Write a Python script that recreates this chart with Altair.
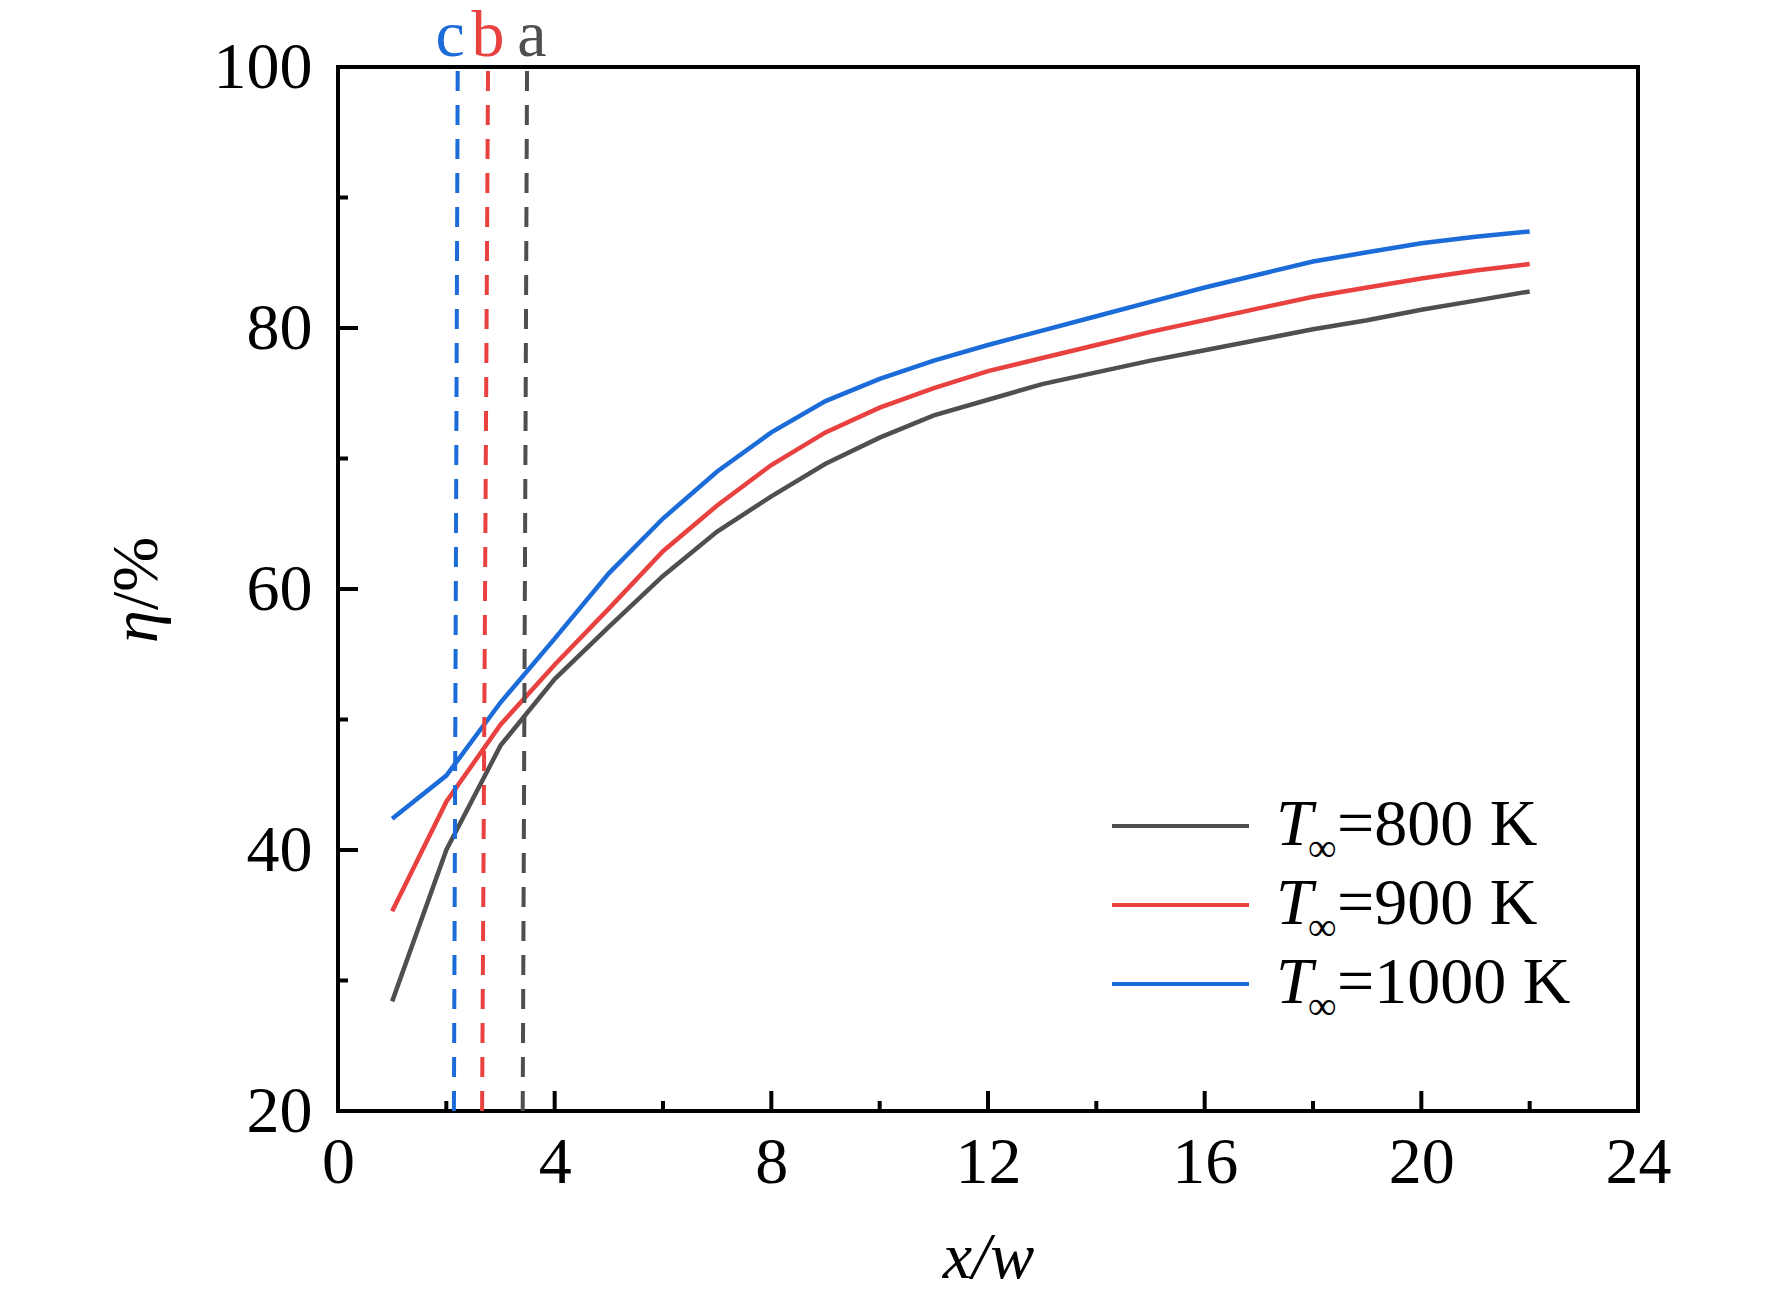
import altair as alt
import pandas as pd

# ---------------- data ----------------
x_w = list(range(1, 23))
eta_800 = [28.4, 40.0, 48.0, 53.1, 57.1, 61.0, 64.4, 67.1, 69.6, 71.6, 73.3,
           74.5, 75.7, 76.6, 77.5, 78.3, 79.1, 79.9, 80.6, 81.4, 82.1, 82.8]
eta_900 = [35.3, 43.7, 49.6, 54.2, 58.5, 62.9, 66.4, 69.5, 72.0, 73.9, 75.4,
           76.7, 77.7, 78.7, 79.7, 80.6, 81.5, 82.4, 83.1, 83.8, 84.4, 84.9]
eta_1000 = [42.4, 45.7, 51.3, 56.2, 61.2, 65.4, 69.0, 72.0, 74.4, 76.1, 77.5,
            78.7, 79.8, 80.9, 82.0, 83.1, 84.1, 85.1, 85.8, 86.5, 87.0, 87.4]

series_keys = ["800", "900", "1000"]
series_colors = ["#4f4f4f", "#e8413f", "#1b6bd8"]
legend_suffix = ["=800 K", "=900 K", "=1000 K"]

marker_labels = ["c", "b", "a"]
marker_series = ["1000", "900", "800"]
marker_x_bottom = [2.14, 2.66, 3.41]
marker_x_top = [2.21, 2.77, 3.49]
marker_label_x = [2.07, 2.77, 3.58]

x_major = [0, 4, 8, 12, 16, 20, 24]
x_minor = [2, 6, 10, 14, 18, 22]
y_major = [20, 40, 60, 80, 100]
y_minor = [30, 50, 70, 90]

X_TITLE = "x/w"

# ---------------- tables ----------------
lines_df = pd.DataFrame({
    "x": x_w * 3,
    "eta": eta_800 + eta_900 + eta_1000,
    "series": [series_keys[0]] * len(x_w) + [series_keys[1]] * len(x_w) + [series_keys[2]] * len(x_w),
})
markers_df = pd.DataFrame({
    "label": marker_labels,
    "series": marker_series,
    "xb": marker_x_bottom,
    "xt": marker_x_top,
    "xl": marker_label_x,
    "y0": [20] * 3,
    "y1": [100] * 3,
})

FONT = "Liberation Serif"
FS = 66
W, H = 1300, 1044

xscale = alt.Scale(domain=[0, 24], nice=False, zero=False)
yscale = alt.Scale(domain=[20, 100], nice=False, zero=False)
cscale = alt.Scale(domain=series_keys, range=series_colors)

x_axis = alt.Axis(values=x_major, ticks=False, tickSize=0, domain=False, grid=False,
                  labelFont=FONT, labelFontSize=FS, labelColor="black", labelPadding=19,
                  labelFlush=False, labelOverlap=False,
                  title=X_TITLE, titleFont=FONT, titleFontSize=FS, titleFontStyle="italic",
                  titleFontWeight="normal", titleColor="black", titleY=166,
                  titleBaseline="alphabetic")
y_axis = alt.Axis(values=y_major, ticks=False, tickSize=0, domain=False, grid=False,
                  labelFont=FONT, labelFontSize=FS, labelColor="black", labelPadding=26,
                  labelFlush=False, labelOverlap=False, title=None)

curves = alt.Chart(lines_df).mark_line(strokeWidth=4.5, clip=False).encode(
    x=alt.X("x:Q", scale=xscale, axis=x_axis),
    y=alt.Y("eta:Q", scale=yscale, axis=y_axis),
    color=alt.Color("series:N", scale=cscale, legend=None),
    order="x:Q",
)

dashes = alt.Chart(markers_df).mark_rule(strokeWidth=4, strokeDash=[20, 14]).encode(
    x=alt.X("xb:Q", scale=xscale, title=X_TITLE),
    x2="xt:Q",
    y=alt.Y("y0:Q", scale=yscale, title=None),
    y2="y1:Q",
    color=alt.Color("series:N", scale=cscale, legend=None),
)

marker_text = alt.Chart(markers_df).mark_text(
    font=FONT, fontSize=FS, align="center", baseline="alphabetic"
).encode(
    x=alt.X("xl:Q", scale=xscale, title=X_TITLE),
    y=alt.value(-11),
    text="label:N",
    color=alt.Color("series:N", scale=cscale, legend=None),
)

# inward ticks
def yticks(vals, length):
    return alt.Chart(pd.DataFrame({"v": vals})).mark_rule(color="black", strokeWidth=4).encode(
        y=alt.Y("v:Q", scale=yscale, title=None),
        x=alt.value(0), x2=alt.value(length),
    )

def xticks(vals, length):
    return alt.Chart(pd.DataFrame({"v": vals})).mark_rule(color="black", strokeWidth=4).encode(
        x=alt.X("v:Q", scale=xscale, title=X_TITLE),
        y=alt.value(H), y2=alt.value(H - length),
    )

tick_layers = [yticks(y_major, 20), yticks(y_minor, 10), xticks(x_major, 20), xticks(x_minor, 10)]

# y title: italic eta + upright "/%"
one = pd.DataFrame({"k": [0]})
ytitle_eta = alt.Chart(one).mark_text(
    font=FONT, fontSize=FS, fontStyle="italic", angle=270, align="left", baseline="alphabetic"
).encode(x=alt.value(-181), y=alt.value(576), text=alt.value("η"))
ytitle_rest = alt.Chart(one).mark_text(
    font=FONT, fontSize=FS, angle=270, align="left", baseline="alphabetic"
).encode(x=alt.value(-181), y=alt.value(543), text=alt.value("/%"))

# legend
legend_layers = []
for i, (key, col, suf) in enumerate(zip(series_keys, series_colors, legend_suffix)):
    ly = 759 + 79 * i
    d = pd.DataFrame({"series": [key]})
    legend_layers.append(
        alt.Chart(d).mark_rule(strokeWidth=4, color=col).encode(
            x=alt.value(774), x2=alt.value(911), y=alt.value(ly))
    )
    legend_layers.append(
        alt.Chart(d).mark_text(font=FONT, fontSize=FS, fontStyle="italic", align="left",
                               baseline="alphabetic", color="black").encode(
            x=alt.value(938), y=alt.value(ly + 19), text=alt.value("T"))
    )
    legend_layers.append(
        alt.Chart(d).mark_text(font=FONT, fontSize=40, align="left",
                               baseline="alphabetic", color="black").encode(
            x=alt.value(970), y=alt.value(ly + 35), text=alt.value("∞"))
    )
    legend_layers.append(
        alt.Chart(d).mark_text(font=FONT, fontSize=FS, align="left",
                               baseline="alphabetic", color="black").encode(
            x=alt.value(999), y=alt.value(ly + 19), text=alt.value(suf))
    )

chart = alt.layer(
    curves, dashes, marker_text, *tick_layers, ytitle_eta, ytitle_rest, *legend_layers
).properties(
    width=W, height=H,
    autosize=alt.AutoSizeParams(type="none"),
    padding={"left": 330, "top": 59, "right": 126, "bottom": 179},
).configure(
    background="white",
    view=alt.ViewConfig(stroke="black", strokeWidth=4),
)

chart.save("out.html", embed_options={"renderer": "svg", "actions": False})
